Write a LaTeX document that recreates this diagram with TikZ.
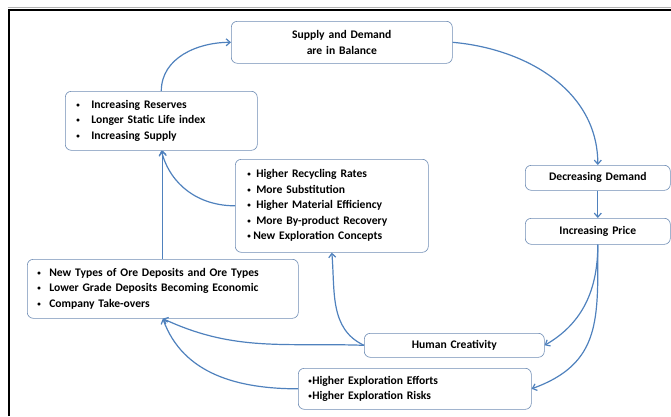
\documentclass[tikz,border=0pt]{standalone}
\usepackage{fontspec}
\setmainfont{Carlito}
\usetikzlibrary{arrows.meta}
\definecolor{cycleblue}{RGB}{79,129,189}
\definecolor{boxline}{RGB}{110,140,180}
\tikzset{
  box/.style={draw=boxline, line width=0.6pt, rounded corners=6pt, anchor=north west,
    inner ysep=0pt, font=\bfseries\fontsize{11.6}{15.5}\selectfont},
  arr/.style={draw=cycleblue, line width=1.2pt, -{Straight Barb[length=4pt,width=7pt]}},
}
% small bullet in a box of given width
\newcommand\bul[1]{\makebox[#1][l]{\raisebox{1pt}{\fontsize{7}{7}\selectfont•}}}
\begin{document}
\begin{tikzpicture}[x=1pt,y=-1pt]
\useasboundingbox (0,0) rectangle (671,416);
% frame
\draw[gray!60, line width=1pt] (8,7.5) -- (671,7.5);
\draw[black, line width=2pt] (8.5,416) -- (8.5,9.5) -- (671,9.5);
% boxes
\node[box, inner xsep=4pt, text width=213pt, minimum height=42pt, align=center] (sup) at (231,21)
  {Supply and Demand\\are in Balance};
\node[box, inner xsep=11pt, text width=170pt, minimum height=59pt, align=left] (res) at (65,91)
  {\bul{15pt}Increasing Reserves\\\bul{15pt}Longer Static Life index\\\bul{15pt}Increasing Supply};
\node[box, inner xsep=12pt, text width=169pt, minimum height=93pt, align=left] (rec) at (235,159)
  {\bul{9pt}Higher Recycling Rates\\\bul{9pt}More Substitution\\\bul{9pt}Higher Material Efficiency\\
   \bul{9pt}More By-product Recovery\\\bul{6pt}New Exploration Concepts};
\node[box, inner xsep=4pt, text width=137pt, minimum height=25pt, align=center] (dd) at (525,165)
  {Decreasing Demand};
\node[box, inner xsep=4pt, text width=137pt, minimum height=26pt, align=center] (ip) at (525,218)
  {Increasing Price};
\node[box, inner xsep=10pt, text width=251pt, minimum height=59pt, align=left] (ore) at (27,259)
  {\bul{12pt}New Types of Ore Deposits and Ore Types\\\bul{12pt}Lower Grade Deposits Becoming Economic\\
   \bul{12pt}Company Take-overs};
\node[box, inner xsep=4pt, text width=172pt, minimum height=24pt, align=center] (hc) at (364,333)
  {Human Creativity};
\node[box, inner xsep=10pt, text width=213pt, minimum height=41pt, align=left] (exp) at (298,368)
  {\bul{4pt}Higher Exploration Efforts\\\bul{4pt}Higher Exploration Risks};
% connectors
\draw[arr] (sup.east) to[out=-5, in=90] (dd.north);
\draw[arr] (dd.south) -- (ip.north);
\draw[arr] (ip.south) to[out=-90, in=30] (hc.east);
\draw[arr] (ip.south) to[out=-90, in=20, looseness=1.2] (exp.east);
\draw[arr] (hc.west) to[out=155, in=-85] (rec.south);
\draw[arr] (hc.west) to[out=178, in=-25] (ore.south);
\draw[arr] (exp.west) to[out=180, in=-70] (ore.south);
\draw[arr] (ore.north) -- (ore.north |- res.south);
\draw[arr] (rec.west) to[out=180, in=-75] (res.south);
\draw[arr] (res.north) to[out=90, in=180] (sup.west);
\end{tikzpicture}
\end{document}
